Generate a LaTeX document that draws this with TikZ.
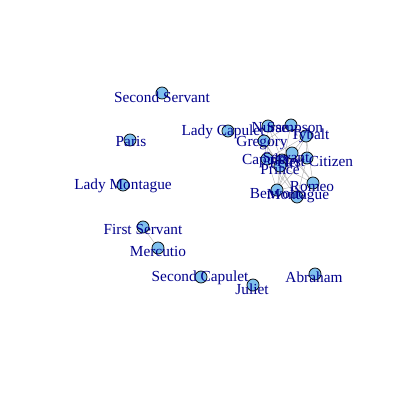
\documentclass[tikz,border=0pt]{standalone}
\usepackage{fontspec}
\setmainfont{Liberation Serif}
\usetikzlibrary{positioning}
\begin{document}
\begin{tikzpicture}[x=0.025cm,y=-0.025cm]
		    \definecolor{vcol}{RGB}{126,192,238}
		    \definecolor{lcol}{RGB}{0,0,139}
		    \tikzset{vert/.style={circle,draw,fill=vcol,inner sep=0pt,minimum size=0.3cm,line width=0.5pt},
		      lab/.style={text=lcol,font=\fontsize{10.9}{12}\selectfont,inner sep=0pt},
		      edge/.style={gray!60,line width=0.3pt}}
		    \useasboundingbox (0,0) rectangle (400,400);
		    % vertex positions
		    \coordinate (secserv) at (162,93);
		    \coordinate (paris) at (130,140);
		    \coordinate (ladymon) at (123,185);
		    \coordinate (firstserv) at (143,227);
		    \coordinate (mercutio) at (158,248);
		    \coordinate (seccap) at (201,277);
		    \coordinate (juliet) at (253,285);
		    \coordinate (abraham) at (315,274);
		    \coordinate (ladycap) at (228,131);
		    \coordinate (nurse) at (268,126);
		    \coordinate (sampson) at (291,125);
		    \coordinate (tybalt) at (306,136);
		    \coordinate (gregory) at (264,141);
		    \coordinate (capulet) at (267,159);
		    \coordinate (servant) at (292,153);
		    \coordinate (peter) at (282,160);
		    \coordinate (firstcit) at (307,158);
		    \coordinate (prince) at (280,166);
		    \coordinate (romeo) at (313,183);
		    \coordinate (benvolio) at (277,190);
		    \coordinate (montague) at (297,197);
		    % edges
		    \foreach \a/\b in {firstserv/mercutio,sampson/gregory,sampson/tybalt,gregory/capulet,capulet/servant,
		      capulet/tybalt,capulet/prince,capulet/peter,capulet/montague,capulet/benvolio,nurse/peter,
		      nurse/romeo,tybalt/romeo,tybalt/benvolio,tybalt/prince,tybalt/firstcit,servant/romeo,
		      servant/benvolio,firstcit/benvolio,prince/montague,prince/romeo,prince/benvolio,romeo/benvolio,
		      romeo/montague,benvolio/montague,gregory/prince,nurse/capulet,sampson/benvolio,gregory/montague,
		      firstcit/montague,firstcit/capulet,nurse/sampson}{
			  \draw[edge] (\a) -- (\b);
			  }
		    % vertices
		    \foreach \v in {secserv,paris,ladymon,firstserv,mercutio,seccap,juliet,abraham,ladycap,nurse,
		      sampson,tybalt,gregory,capulet,servant,peter,firstcit,prince,romeo,benvolio,montague}{
			  \node[vert] (v-\v) at (\v) {};
			  }
		    % labels
		    \node[lab] (l-secserv) at (162,97) {Second Servant};
		    \node[lab] (l-paris) at (131,142) {Paris};
		    \node[lab] (l-ladymon) at (123,186) {Lady Montague};
		    \node[lab] (l-firstserv) at (143,229) {First Servant};
		    \node[lab] (l-mercutio) at (158,251) {Mercutio};
		    \node[lab] (l-seccap) at (200,278) {Second Capulet};
		    \node[lab] (l-juliet) at (252,289) {Juliet};
		    \node[lab] (l-abraham) at (314,277) {Abraham};
		    \node[lab] (l-ladycap) at (223,132) {Lady Capulet};
		    \node[lab] (l-nurse) at (270,128) {Nurse};
		    \node[lab] (l-sampson) at (295,129) {Sampson};
		    \node[lab] (l-tybalt) at (310,136) {Tybalt};
		    \node[lab] (l-gregory) at (262,143) {Gregory};
		    \node[lab] (l-capulet) at (266,161) {Capulet};
		    \node[lab] (l-servant) at (286,157) {Servant};
		    \node[lab] (l-peter) at (285,163) {Peter};
		    \node[lab] (l-firstcit) at (315,162) {First Citizen};
		    \node[lab] (l-prince) at (280,170) {Prince};
		    \node[lab] (l-romeo) at (312,187) {Romeo};
		    \node[lab] (l-benvolio) at (278,193) {Benvolio};
		    \node[lab] (l-montague) at (298,196) {Montague};
\end{tikzpicture}
\end{document}
